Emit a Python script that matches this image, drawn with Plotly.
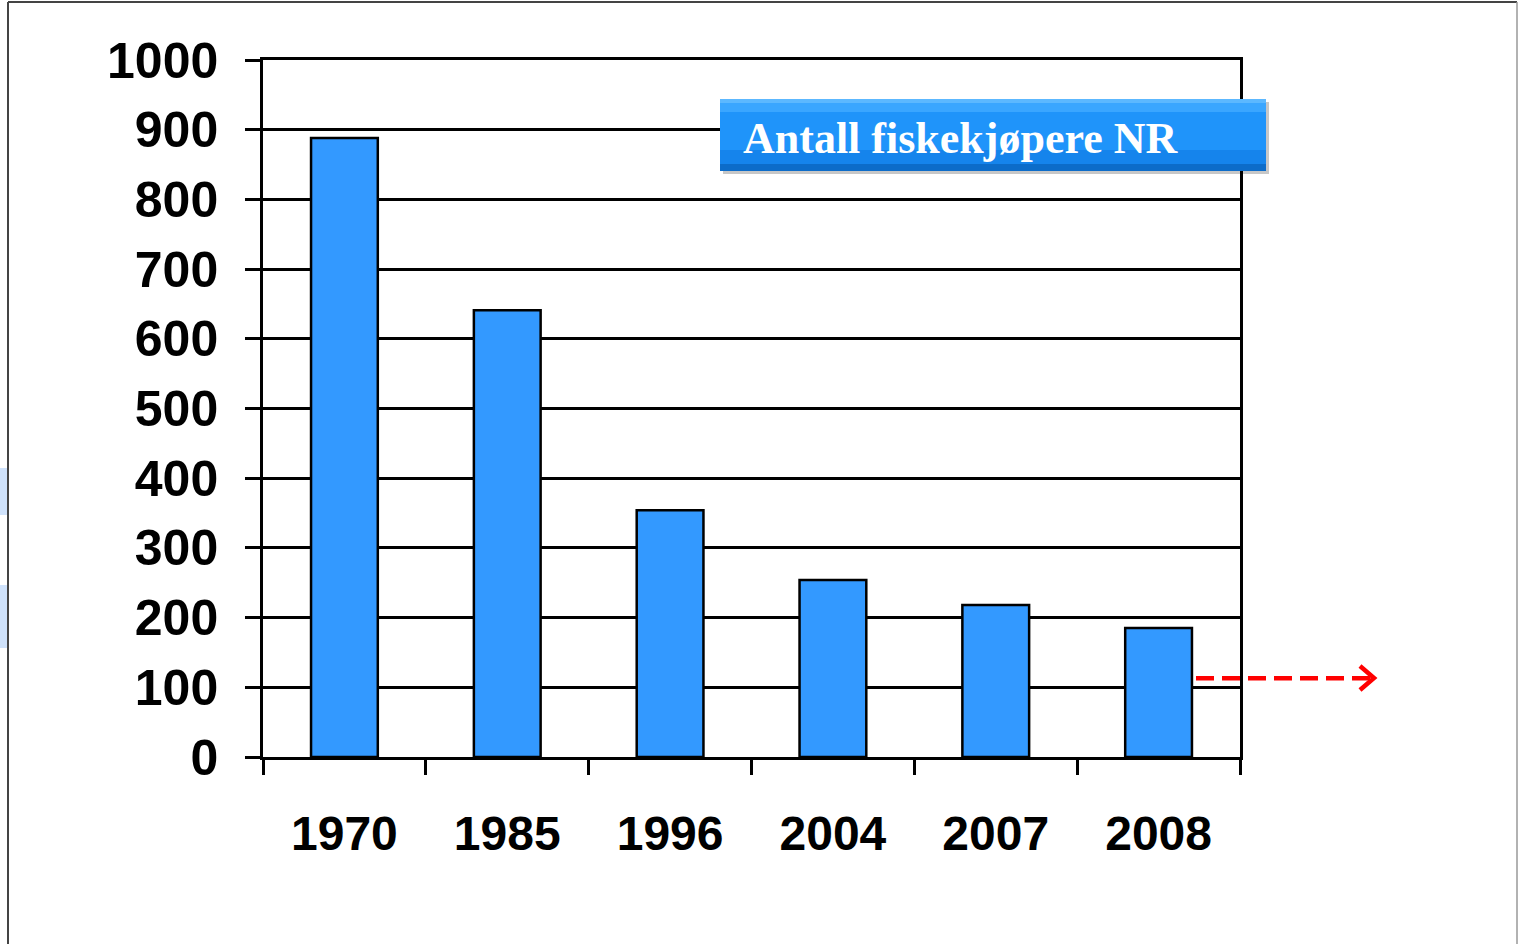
import plotly.graph_objects as go

years = ["1970", "1985", "1996", "2004", "2007", "2008"]
buyers = [888, 641, 354, 254, 218, 185]
y_ticks = [0, 100, 200, 300, 400, 500, 600, 700, 800, 900, 1000]
title_text = "Antall fiskekjøpere NR"
arrow_level = 113

fig = go.Figure()
fig.add_trace(go.Bar(
    x=years, y=buyers,
    marker=dict(color="#3399FF", line=dict(color="black", width=2.5)),
    width=0.41,
))

W, H = 1519, 944
L, R, T, B = 263, 1240, 60, 757


def px(x):
    return (x - L) / (R - L)


def py(y):
    return (B - y) / (B - T)


shapes = []
# outer frame
shapes.append(dict(type="line", xref="paper", yref="paper", x0=px(8), x1=px(1517), y0=py(2), y1=py(2),
                   line=dict(color="#444", width=2)))
shapes.append(dict(type="line", xref="paper", yref="paper", x0=px(8), x1=px(8), y0=py(2), y1=py(944),
                   line=dict(color="#444", width=2)))
shapes.append(dict(type="line", xref="paper", yref="paper", x0=px(1517), x1=px(1517), y0=py(2), y1=py(944),
                   line=dict(color="#999", width=1.5)))
# light blue fragments at left edge
for (a, b) in [(468, 515), (585, 648)]:
    shapes.append(dict(type="rect", xref="paper", yref="paper", x0=px(0), x1=px(7), y0=py(b), y1=py(a),
                       fillcolor="#cfe2fb", line=dict(width=0), layer="below"))
# title box shadow
shapes.append(dict(type="rect", xref="paper", yref="paper", x0=px(723), x1=px(1269), y0=py(174), y1=py(102),
                   fillcolor="rgba(0,0,0,0.22)", line=dict(width=0)))
# title box gradient (stacked bands)
bands = [(99, 103, "#5cb8ff"), (103, 112, "#3aa6ff"), (112, 150, "#1f94fa"), (150, 164, "#1584ec"),
         (164, 171, "#0c6cc9")]
for (a, b, c) in bands:
    shapes.append(dict(type="rect", xref="paper", yref="paper", x0=px(720), x1=px(1266), y0=py(b), y1=py(a),
                       fillcolor=c, line=dict(width=0)))
# red dashed arrow
shapes.append(dict(type="line", xref="paper", yref="y", x0=px(1196), x1=px(1372), y0=arrow_level, y1=arrow_level,
                   line=dict(color="#ff0000", width=4.5, dash="18px,8px")))
shapes.append(dict(type="path", xref="paper", yref="paper",
                   path=f"M {px(1360)} {py(666)} L {px(1374)} {py(678)} L {px(1360)} {py(690)}",
                   line=dict(color="#ff0000", width=4.5)))

fig.update_layout(
    width=W, height=H,
    margin=dict(l=L, r=W - R, t=T, b=H - B, pad=0),
    paper_bgcolor="white", plot_bgcolor="white",
    showlegend=False,
    shapes=shapes,
    annotations=[dict(xref="paper", yref="paper", x=px(741), y=py(138), xanchor="left", yanchor="middle",
                      text=title_text, showarrow=False,
                      font=dict(family="Liberation Serif, Times New Roman", size=44, color="white", weight="bold"))],
    bargap=0.59,
)
fig.update_xaxes(
    type="category", tickson="boundaries", ticks="outside", ticklen=15, tickwidth=2.5, tickcolor="black",
    showline=True, linecolor="black", linewidth=2.5, mirror=True, showgrid=False,
    tickfont=dict(family="Liberation Sans, Arial", size=48, color="black", weight="bold"),
    ticklabelstandoff=33,
)
fig.update_yaxes(
    range=[0, 1000], tickvals=y_ticks, ticks="outside", ticklen=15, tickwidth=2.5, tickcolor="black",
    showline=True, linecolor="black", linewidth=2.5, mirror=True,
    showgrid=True, gridcolor="black", gridwidth=2.5, zeroline=False,
    tickfont=dict(family="Liberation Sans, Arial", size=50, color="black", weight="bold"),
    ticklabelstandoff=17,
)
fig.write_html("out.html", config={"displayModeBar": False},
               post_script="document.body.style.margin='0';document.body.style.overflow='hidden';")
